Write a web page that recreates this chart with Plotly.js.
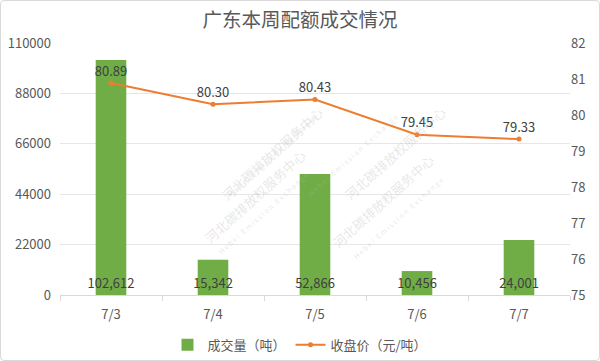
<!DOCTYPE html>
<html><head><meta charset="utf-8">
<script src="https://cdn.plot.ly/plotly-3.0.1.min.js"></script>
<style>
html,body{margin:0;padding:0;background:#fff;}
#wrap{position:relative;width:600px;height:361px;}
#chart{position:absolute;left:0;top:0;width:600px;height:361px;}
#frame{position:absolute;left:0;top:0;width:598px;height:359px;border:1px solid #d9d9d9;border-radius:4px;pointer-events:none;}
</style></head>
<body>
<div id="wrap"><div id="chart"></div><div id="frame"></div></div>
<script>
const categories = ['7/3', '7/4', '7/5', '7/6', '7/7'];
const volume = [102612, 15342, 52866, 10456, 24001];
const price = [80.89, 80.30, 80.43, 79.45, 79.33];
const leftTicks = [0, 22000, 44000, 66000, 88000, 110000];
const rightTicks = [75, 76, 77, 78, 79, 80, 81, 82];
const seriesNames = ['成交量（吨）', '收盘价（元/吨）'];
const titleText = '广东本周配额成交情况';
const watermarkMain = '河北碳排放权服务中心';
const watermarkSub = 'H e b e i   E m i s s i o n   E x c h a n g e';

const font = "'Microsoft YaHei', 'Noto Sans CJK SC', 'DejaVu Sans', sans-serif";
const txt = '#595959';

const bars = {
  type: 'bar', x: categories, y: volume, name: seriesNames[0],
  marker: {color: '#70ad47'}, width: 0.3,
  text: volume.map(v => v.toLocaleString('en-US')),
  textposition: 'inside', insidetextanchor: 'start', textangle: 0,
  textfont: {color: '#404040', size: 13, family: font},
  constraintext: 'none', cliponaxis: false,
  hoverinfo: 'skip'
};
const line = {
  type: 'scatter', mode: 'lines+markers+text', x: categories, y: price, yaxis: 'y2',
  name: seriesNames[1],
  line: {color: '#ed7d31', width: 2}, marker: {color: '#ed7d31', size: 5},
  text: price.map(v => v.toFixed(2)), textposition: 'top center',
  textfont: {color: '#404040', size: 13, family: font},
  cliponaxis: false, hoverinfo: 'skip'
};

const wmPos = [[215, 100], [395, 100], [255, 250], [440, 255]];
const annotations = [];
wmPos.forEach(p => {
  annotations.push({
    xref: 'paper', yref: 'paper',
    x: (p[0] - 60) / 510, y: 1 - (p[1] - 43) / 252.5,
    text: watermarkMain, showarrow: false, textangle: -42,
    font: {size: 13, color: 'rgba(185,185,185,0.35)', family: font}
  });
  annotations.push({
    xref: 'paper', yref: 'paper',
    x: (p[0] + 8 - 60) / 510, y: 1 - (p[1] + 9 - 43) / 252.5,
    text: watermarkSub, showarrow: false, textangle: -42,
    font: {size: 7, color: 'rgba(185,185,185,0.35)', family: font}
  });
});

const layout = {
  width: 600, height: 361,
  margin: {l: 60, r: 30, t: 43, b: 65.5, autoexpand: false},
  paper_bgcolor: '#fff', plot_bgcolor: '#fff',
  font: {family: font, color: txt, size: 13},
  title: {text: titleText, x: 0.5, xanchor: 'center', y: 0.945, yanchor: 'middle',
          font: {size: 19.5, color: txt, family: font}},
  showlegend: true,
  legend: {orientation: 'h', x: 0.5, xref: 'container', xanchor: 'center', y: 0.045, yref: 'container', yanchor: 'middle',
           font: {size: 13, color: txt}, traceorder: 'normal', itemwidth: 30},
  xaxis: {type: 'category', showgrid: false, showline: true, linecolor: '#d9d9d9', linewidth: 1,
          ticks: 'outside', tickson: 'boundaries', ticklen: 5, tickcolor: '#d9d9d9',
          tickfont: {size: 13, color: txt}, zeroline: false, ticklabelstandoff: 7},
  yaxis: {range: [0, 110000], tickvals: leftTicks, ticktext: leftTicks.map(String),
          showgrid: true, gridcolor: '#e6e6e6', zeroline: false, showline: false,
          tickfont: {size: 13, color: txt}, ticklabelstandoff: 8},
  yaxis2: {range: [75, 82], tickvals: rightTicks, overlaying: 'y', side: 'right',
           showgrid: false, zeroline: false, showline: false,
           tickfont: {size: 13, color: txt}},
  bargap: 0.7,
  annotations: annotations
};

Plotly.newPlot('chart', [bars, line], layout, {displayModeBar: false, staticPlot: true});
</script>
</body></html>
